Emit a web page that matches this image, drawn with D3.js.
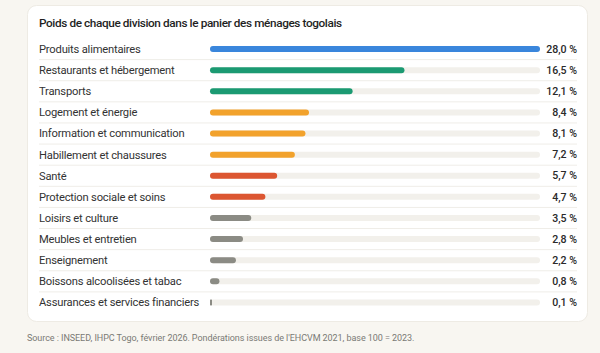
<!DOCTYPE html>
<html>
<head>
<meta charset="utf-8">
<script src="https://cdn.jsdelivr.net/npm/d3@7"></script>
<style>
  body { margin: 0; background: #f8f6f1; font-family: Roboto, "Noto Sans", sans-serif; }
</style>
</head>
<body>
<div id="chart"></div>
<script>
let width = 600
let height = 353

const categories = [
    "Produits alimentaires",
    "Restaurants et hébergement",
    "Transports",
    "Logement et énergie",
    "Information et communication",
    "Habillement et chaussures",
    "Santé",
    "Protection sociale et soins",
    "Loisirs et culture",
    "Meubles et entretien",
    "Enseignement",
    "Boissons alcoolisées et tabac",
    "Assurances et services financiers"
]
const values = [28.0, 16.5, 12.1, 8.4, 8.1, 7.2, 5.7, 4.7, 3.5, 2.8, 2.2, 0.8, 0.1]
const groups = ["blue", "green", "green", "orange", "orange", "orange", "red", "red", "grey", "grey", "grey", "grey", "grey"]

const data = categories.map((c, i) => ({ name: c, value: values[i], group: groups[i] }))

const colors = d3.scaleOrdinal()
    .domain(["blue", "green", "orange", "red", "grey"])
    .range(["#3a86dc", "#1b9a72", "#f2a22c", "#dc5631", "#8b8b84"])

let svg = d3.select("#chart")
    .append("svg")
    .attr("width", width)
    .attr("height", height)

// card
svg.append("rect")
    .attr("x", 27.5)
    .attr("y", 5.5)
    .attr("width", 560)
    .attr("height", 316)
    .attr("rx", 9)
    .attr("fill", "#ffffff")
    .attr("stroke", "#eeebe4")

svg.append("text")
    .text("Poids de chaque division dans le panier des ménages togolais")
    .attr("x", 39)
    .attr("y", 27)
    .attr("font-size", "11.8")
    .attr("letter-spacing", "-0.4")
    .attr("font-weight", "500")
    .attr("fill", "#1f1f1f")

let y = d3.scaleBand()
    .domain(categories)
    .range([38.5, 313])

let x = d3.scaleLinear()
    .domain([0, d3.max(values)])
    .range([210, 540])

const barH = 6

const rows = svg.append("g")
    .selectAll("g")
    .data(data)
    .join("g")
    .attr("transform", d => `translate(0, ${y(d.name) + y.bandwidth() / 2})`)

// separators
rows.filter((d, i) => i < data.length - 1)
    .append("line")
    .attr("x1", 39)
    .attr("x2", 577)
    .attr("y1", y.bandwidth() / 2)
    .attr("y2", y.bandwidth() / 2)
    .attr("stroke", "#efede8")

rows.append("text")
    .text(d => d.name)
    .attr("x", 39)
    .attr("dy", "0.35em")
    .attr("font-size", "11.2")
    .attr("letter-spacing", "-0.2")
    .attr("fill", "#333")

rows.append("rect")
    .attr("x", x(0))
    .attr("y", -barH / 2)
    .attr("width", x(d3.max(values)) - x(0))
    .attr("height", barH)
    .attr("rx", barH / 2)
    .attr("fill", "#f2f0eb")

rows.append("rect")
    .attr("x", x(0))
    .attr("y", -barH / 2)
    .attr("width", d => Math.max(x(d.value) - x(0), 2))
    .attr("height", barH)
    .attr("rx", d => Math.min(barH / 2, (x(d.value) - x(0)) / 2))
    .attr("fill", d => colors(d.group))

rows.append("text")
    .text(d => d3.format(".1f")(d.value).replace(".", ",") + " %")
    .attr("x", 577)
    .attr("dy", "0.35em")
    .attr("text-anchor", "end")
    .attr("font-size", "10.6")
    .attr("font-weight", "500")
    .attr("fill", "#2a2a2a")

svg.append("text")
    .text("Source : INSEED, IHPC Togo, février 2026. Pondérations issues de l'EHCVM 2021, base 100 = 2023.")
    .attr("x", 27)
    .attr("y", 341)
    .attr("font-size", "9")
    .attr("letter-spacing", "-0.06")
    .attr("fill", "#7a7a75")
</script>
</body>
</html>
